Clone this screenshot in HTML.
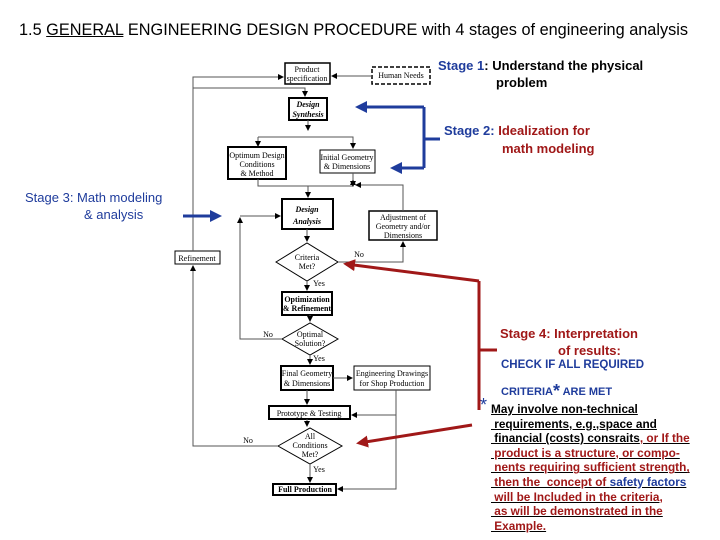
<!DOCTYPE html>
<html><head><meta charset="utf-8"><style>
body{margin:0;width:720px;height:540px;background:#fff;position:relative;overflow:hidden;font-family:"Liberation Sans",sans-serif}
.t{position:absolute;white-space:nowrap}
svg{position:absolute;left:0;top:0}
svg text{font-family:"Liberation Serif",serif;font-size:8px}
.bl{color:#1f3c9c}.rd{color:#a01818}
.u{text-decoration:underline}
.s{font-weight:bold;font-size:13px}
</style></head><body>
<div class="t" style="left:19px;top:21px;font-size:16.3px">1.5 <span class="u">GENERAL</span> ENGINEERING DESIGN PROCEDURE with 4 stages of engineering analysis</div>
<div class="t s" style="left:438px;top:58px"><span class="bl">Stage 1</span>: Understand the physical</div>
<div class="t s" style="left:496px;top:75px">problem</div>
<div class="t s" style="left:444px;top:123px"><span class="bl">Stage 2:</span> <span class="rd">Idealization for</span></div>
<div class="t s rd" style="left:502px;top:141px">math modeling</div>
<div class="t s bl" style="left:25px;top:190px;font-weight:normal">Stage 3: Math modeling</div>
<div class="t s bl" style="left:84px;top:207px;font-weight:normal">&amp; analysis</div>
<div class="t s rd" style="left:500px;top:326px">Stage 4: Interpretation</div>
<div class="t s rd" style="left:558px;top:343px">of results:</div>
<div class="t bl" style="left:501px;top:359px;font-size:11.5px;font-weight:bold">CHECK IF ALL REQUIRED</div>
<div class="t bl" style="left:501px;top:381px;font-size:11px;font-weight:bold">CRITERIA<span style="font-size:18px;vertical-align:-2px">*</span> ARE MET</div>
<div class="t bl" style="left:480px;top:395px;font-size:18px">*</div>
<div style="position:absolute;left:491px;top:402px;font-size:11.8px;line-height:14.6px;font-weight:bold;text-decoration:underline;width:225px">
<div>May involve non-technical</div>
<div>&nbsp;requirements, e.g.,space and</div>
<div>&nbsp;financial (costs) consraits<span class="rd">, or If the</span></div>
<div class="rd">&nbsp;product is a structure, or compo-</div>
<div class="rd">&nbsp;nents requiring sufficient strength,</div>
<div class="rd">&nbsp;then the &nbsp;concept of <span class="bl">safety factors</span></div>
<div class="rd">&nbsp;will be Included in the criteria,</div>
<div class="rd">&nbsp;as will be demonstrated in the</div>
<div class="rd">&nbsp;Example.</div>
</div>
<svg width="720" height="540">
<defs>
<marker id="a" markerWidth="6" markerHeight="6" refX="5" refY="3" orient="auto"><path d="M0,0L6,3L0,6z" fill="#000"/></marker>
<marker id="b" markerWidth="4" markerHeight="4" refX="3" refY="2" orient="auto"><path d="M0,0L4,2L0,4z" fill="#1f3c9c"/></marker>
<marker id="r" markerWidth="4" markerHeight="4" refX="3" refY="2" orient="auto"><path d="M0,0L4,2L0,4z" fill="#a01818"/></marker>
</defs>
<g fill="#fff" stroke="#000">
<rect x="285" y="63" width="45" height="21" stroke-width="1.5"/>
<rect x="372" y="67" width="58" height="17" stroke-dasharray="4,2" stroke-width="1.5"/>
<rect x="289" y="98" width="38" height="22" stroke-width="2"/>
<rect x="228" y="147" width="58" height="32" stroke-width="2"/>
<rect x="320" y="150" width="55" height="23" stroke-width="1"/>
<rect x="282" y="199" width="51" height="30" stroke-width="2"/>
<rect x="369" y="211" width="68" height="29" stroke-width="1.5"/>
<polygon points="276,262 307,243 338,262 307,281" stroke-width="1"/>
<rect x="175" y="251" width="45" height="13"/>
<rect x="282" y="292" width="50" height="23" stroke-width="2"/>
<polygon points="282,339 310,323 338,339 310,355"/>
<rect x="281" y="366" width="52" height="24" stroke-width="2"/>
<rect x="354" y="366" width="76" height="24"/>
<rect x="269" y="406" width="81" height="13" stroke-width="2"/>
<polygon points="278,446 310,428 342,446 310,464"/>
<rect x="273" y="484" width="63" height="11" stroke-width="2"/>
</g>
<g fill="none" stroke="#555" stroke-width="1">
<path d="M372,76H332" marker-end="url(#a)"/>
<path d="M193,251V77H283" marker-end="url(#a)"/>
<path d="M193,88H305V96" marker-end="url(#a)"/>
<path d="M308,120V130" marker-end="url(#a)"/>
<path d="M258,137H353V148" marker-end="url(#a)"/>
<path d="M258,137V146" marker-end="url(#a)"/>
<path d="M258,179V186H353V180" marker-end="url(#a)"/>
<path d="M353,173V186" marker-end="url(#a)"/>
<path d="M308,186V197" marker-end="url(#a)"/>
<path d="M403,211V185H356" marker-end="url(#a)"/>
<path d="M307,229V241" marker-end="url(#a)"/>
<path d="M338,262H403V242" marker-end="url(#a)"/>
<path d="M307,281V290" marker-end="url(#a)"/>
<path d="M310,315V321" marker-end="url(#a)"/>
<path d="M282,339H240V218" marker-end="url(#a)"/>
<path d="M240,216H280" marker-end="url(#a)"/>
<path d="M310,355V364" marker-end="url(#a)"/>
<path d="M333,378H352" marker-end="url(#a)"/>
<path d="M307,390V404" marker-end="url(#a)"/>
<path d="M396,390V489H338" marker-end="url(#a)"/>
<path d="M396,415H352" marker-end="url(#a)"/>
<path d="M307,419V426" marker-end="url(#a)"/>
<path d="M278,446H193V266" marker-end="url(#a)"/>
<path d="M310,464V482" marker-end="url(#a)"/>
</g>
<g fill="none" stroke="#1f3c9c" stroke-width="3">
<path d="M424,107V168M424,139H440"/>
<path d="M424,107H358" marker-end="url(#b)"/>
<path d="M424,168H393" marker-end="url(#b)"/>
<path d="M183,216H219" marker-end="url(#b)"/>
</g>
<g fill="none" stroke="#a01818" stroke-width="3">
<path d="M479,281V410M479,350H497"/>
<path d="M479,281L346,264" marker-end="url(#r)"/>
<path d="M472,425L359,443" marker-end="url(#r)"/>
</g>
<g text-anchor="middle" fill="#000">
<text x="307" y="72">Product</text><text x="307" y="81">specification</text>
<text x="401" y="78">Human Needs</text>
<text x="308" y="107" font-weight="bold" font-style="italic">Design</text><text x="308" y="117" font-weight="bold" font-style="italic">Synthesis</text>
<text x="257" y="158">Optimum Design</text><text x="257" y="167">Conditions</text><text x="257" y="176">&amp; Method</text>
<text x="347" y="160">Initial Geometry</text><text x="347" y="169">&amp; Dimensions</text>
<text x="307" y="212" font-weight="bold" font-style="italic" font-size="10">Design</text><text x="307" y="224" font-weight="bold" font-style="italic" font-size="10">Analysis</text>
<text x="403" y="220">Adjustment of</text><text x="403" y="229">Geometry and/or</text><text x="403" y="238">Dimensions</text>
<text x="307" y="260">Criteria</text><text x="307" y="269">Met?</text>
<text x="197" y="261">Refinement</text>
<text x="307" y="302" font-weight="bold">Optimization</text><text x="307" y="311" font-weight="bold">&amp; Refinement</text>
<text x="310" y="337">Optimal</text><text x="310" y="346">Solution?</text>
<text x="307" y="376">Final Geometry</text><text x="307" y="386">&amp; Dimensions</text>
<text x="392" y="376">Engineering Drawings</text><text x="392" y="386">for Shop Production</text>
<text x="309" y="416">Prototype &amp; Testing</text>
<text x="310" y="439">All</text><text x="310" y="448">Conditions</text><text x="310" y="457">Met?</text>
<text x="305" y="492" font-weight="bold">Full Production</text>
<text x="359" y="257">No</text><text x="319" y="286">Yes</text>
<text x="268" y="337">No</text><text x="319" y="361">Yes</text>
<text x="248" y="443">No</text><text x="319" y="472">Yes</text>
</g>
</svg>
</body></html>
